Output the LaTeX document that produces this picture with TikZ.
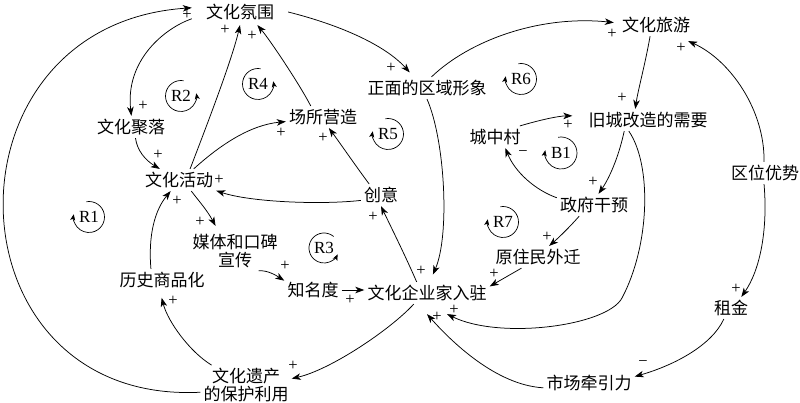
\documentclass[tikz,border=0pt]{standalone}
\usepackage{fontspec}
\setmainfont{Liberation Serif}
\newfontfamily\cjk{Noto Sans CJK SC}
\newfontfamily\tnr{Liberation Serif}
\usetikzlibrary{arrows.meta}
\begin{document}
\begin{tikzpicture}[x=1pt,y=-1pt,
  n/.style={font=\cjk\fontsize{17}{17.5}\selectfont, inner sep=3pt, align=center},
  pol/.style={font=\tnr\fontsize{16.5}{16.5}\selectfont, inner sep=0pt},
  lp/.style={font=\tnr\fontsize{17}{17}\selectfont, inner sep=0pt},
  arr/.style={line width=0.75pt, -{Stealth[length=9pt,width=6.5pt,inset=2.5pt]}},
  larr/.style={line width=0.7pt, -{Stealth[length=6pt,width=5pt,inset=1.5pt]}}]
\useasboundingbox (0,0) rectangle (800,403);

% nodes
\node[n, inner xsep=14pt, inner ysep=5pt] (A) at (240,12) {文化氛围};
\node[n] (B) at (131,127) {文化聚落};
\node[n] (C) at (179,180) {文化活动};
\node[n] (D) at (323,117) {场所营造};
\node[n] (E) at (381,195) {创意};
\node[n] (F) at (427,88) {正面的区域形象};
\node[n] (G) at (656,25) {文化旅游};
\node[n] (H) at (648,120) {旧城改造的需要};
\node[n] (I) at (495,137) {城中村};
\node[n] (J) at (594,205) {政府干预};
\node[n] (K) at (765,173) {区位优势};
\node[n] (L) at (538,257) {原住民外迁};
\node[n] (M) at (427,293) {文化企业家入驻};
\node[n] (N) at (313,290) {知名度};
\node[n] (O) at (235,251) {媒体和口碑\\宣传};
\node[n] (P) at (162,280) {历史商品化};
\node[n] (Q) at (246,385) {文化遗产\\的保护利用};
\node[n] (R) at (731,308) {租金};
\node[n] (S) at (589,383) {市场牵引力};

% connectors
\draw[arr] (A.188) .. controls (165,28) and (125,60) .. (B.88);
\draw[arr] (B.-68) .. controls (137,150) and (145,160) .. (C.150);
\draw[arr] (C.45) .. controls (205,130) and (232,60) .. (A.-90);
\draw[arr] (D.138) .. controls (300,85) and (270,40) .. (A.-37);
\draw[arr] (C.37) .. controls (220,145) and (250,125) .. (D.-173);
\draw[arr] (E.137) .. controls (355,165) and (340,143) .. (D.-62);
\draw[arr] (E.195) .. controls (320,205) and (250,202) .. (C.-16);
\draw[arr, shorten >=6pt] (C.-42) .. controls (198,200) and (207,210) .. (O.130);
\draw[arr] (P.135) .. controls (148,235) and (155,210) .. (C.-127);
\draw[arr, shorten >=7pt] (Q.150) .. controls (190,352) and (168,322) .. (P.-101);
\draw[arr] (Q.189) .. controls (-55,405) and (-65,25) .. (A.175);
\draw[arr] (O.-40) .. controls (268,270) and (277,276) .. (N.162);
\draw[arr] (N.east) -- (N.east -| M.west);
\draw[arr] (M.133) .. controls (405,255) and (390,225) .. (E.south);
\draw[arr, shorten >=8pt] (F.south) .. controls (445,140) and (450,235) .. (M.76);
\draw[arr, shorten >=6pt] (A.east) .. controls (340,25) and (385,45) .. (F.140);
\draw[arr, shorten >=5pt] (F.68) .. controls (470,40) and (540,15) .. (G.177);
\draw[arr] (G.-118) .. controls (645,65) and (638,90) .. (H.139);
\draw[arr] (K.95) .. controls (765,110) and (730,60) .. ([xshift=-5pt,yshift=-5pt]G.south east);
\draw[arr] (K.-95) .. controls (768,230) and (760,270) .. (R.47);
\draw[arr] (R.-123) .. controls (712,345) and (675,365) .. (S.8);
\draw[arr] (S.186) .. controls (495,385) and (450,340) .. ([yshift=-10pt]M.south);
\draw[arr] (H.-150) .. controls (652,165) and (650,245) .. (622,298)
   .. controls (607,326) and (500,340) .. ([xshift=20pt,yshift=-10pt]M.south);
\draw[arr] (H.-155) .. controls (618,160) and (608,180) .. (J.68);
\draw[arr] (J.169) .. controls (535,190) and (515,172) .. (I.-47);
\draw[arr, shorten >=13pt] (I.24) .. controls (540,120) and (558,116) .. (H.176);
\draw[arr] (J.-143) .. controls (567,230) and (556,240) .. (L.45);
\draw[arr] (L.-146) -- (M.6);
\draw[arr] (M.-140) .. controls (390,330) and (330,370) .. (Q.8);

% polarity signs
\node[pol] (s1) at (187,15) {+};
\node[pol] (s2) at (225,30) {+};
\node[pol] (s3) at (252,36) {+};
\node[pol] (s4) at (143,106) {+};
\node[pol] (s5) at (158,155) {+};
\node[pol] (s6) at (219,180) {+};
\node[pol] (s7) at (281,133) {+};
\node[pol] (s8) at (323,138) {+};
\node[pol] (s9) at (177,201) {+};
\node[pol] (s10) at (200,222) {+};
\node[pol] (s11) at (173,301) {+};
\node[pol] (s12) at (285,266) {+};
\node[pol] (s13) at (350,300) {+};
\node[pol] (s14) at (373,217) {+};
\node[pol] (s15) at (421,271) {+};
\node[pol] (s16) at (391,68) {+};
\node[pol] (s17) at (612,34) {+};
\node[pol] (s18) at (622,98) {+};
\node[pol] (s19) at (681,48) {+};
\node[pol] (s20) at (736,289) {+};
\node[pol] (s21) at (643,364) {−};
\node[pol] (s22) at (437,317) {+};
\node[pol] (s23) at (454,310) {+};
\node[pol] (s24) at (593,182) {+};
\node[pol] (s25) at (523,154) {−};
\node[pol] (s26) at (568,125) {+};
\node[pol] (s27) at (547,237) {+};
\node[pol] (s28) at (494,274) {+};
\node[pol] (s29) at (293,366) {+};

% loop symbols
\node[lp] (r1) at (89,217) {R1};
\draw[larr] ([shift={(100:15.5pt)}]r1.center) arc[start angle=100, end angle=-190, radius=15.5pt];
\node[lp] (r2) at (181,96) {R2};
\draw[larr] ([shift={(80:15.5pt)}]r2.center) arc[start angle=80, end angle=370, radius=15.5pt];
\node[lp] (r4) at (258,84) {R4};
\draw[larr] ([shift={(80:15.5pt)}]r4.center) arc[start angle=80, end angle=370, radius=15.5pt];
\node[lp] (r3) at (324,248) {R3};
\draw[larr] ([shift={(50:15pt)}]r3.center) arc[start angle=50, end angle=335, radius=15pt];
\node[lp] (r5) at (388,134) {R5};
\draw[larr] ([shift={(100:15.5pt)}]r5.center) arc[start angle=100, end angle=-190, radius=15.5pt];
\node[lp] (r6) at (521,79) {R6};
\draw[larr] ([shift={(100:15.5pt)}]r6.center) arc[start angle=100, end angle=-190, radius=15.5pt];
\node[lp] (b1) at (561,153) {B1};
\draw[larr] ([shift={(100:16pt)}]b1.center) arc[start angle=100, end angle=-190, radius=16pt];
\node[lp] (r7) at (503,222) {R7};
\draw[larr] ([shift={(100:15.5pt)}]r7.center) arc[start angle=100, end angle=-190, radius=15.5pt];
\end{tikzpicture}
\end{document}
